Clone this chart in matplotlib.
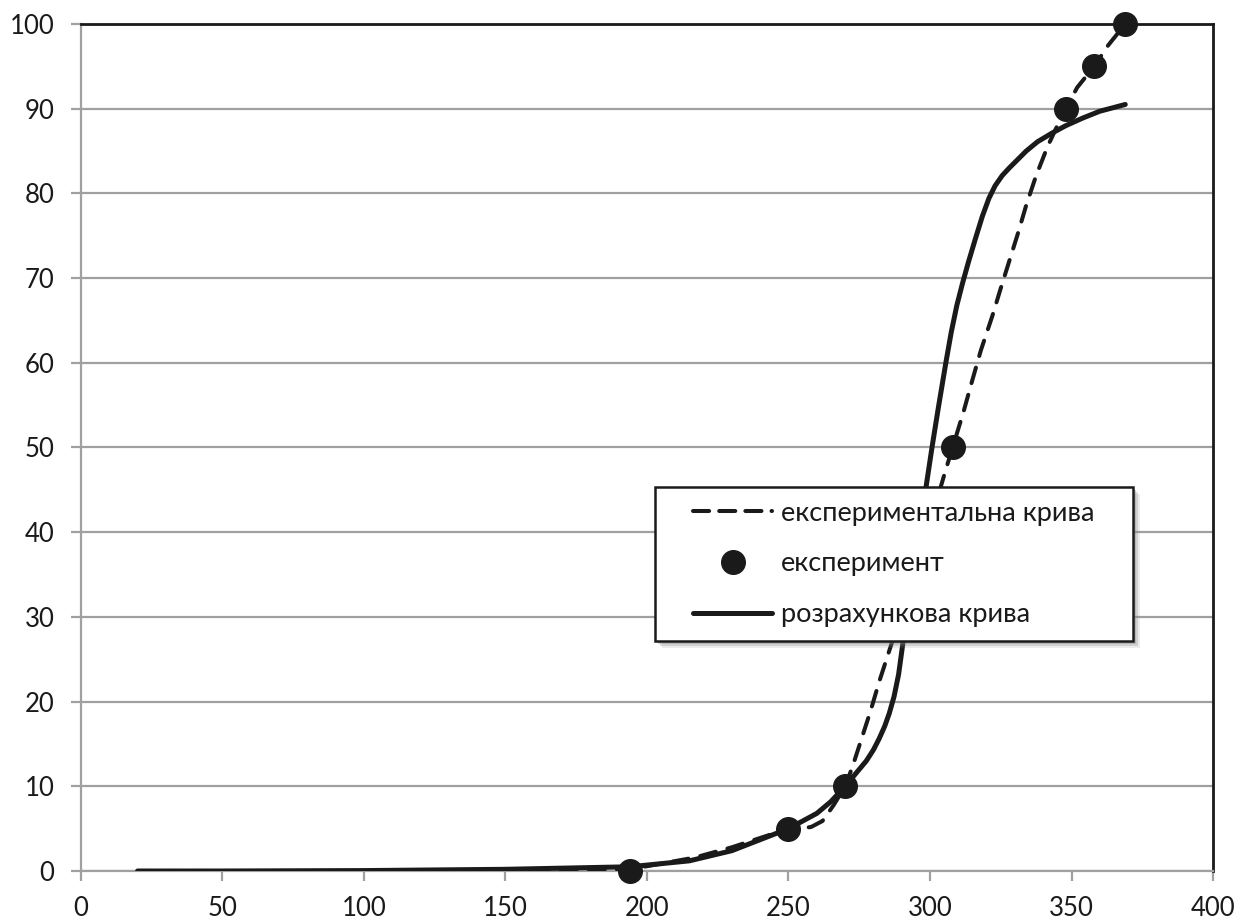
import matplotlib
matplotlib.use("Agg")
import matplotlib.pyplot as plt
from matplotlib.patches import Rectangle
from matplotlib.lines import Line2D

plt.rcParams['font.family'] = ['Lato', 'DejaVu Sans']

# experimental points
exp_x = [194, 250, 270, 308, 348, 358, 369]
exp_y = [0, 5, 10, 50, 90, 95, 100]

dash_x = [20, 60, 100, 150, 194, 217, 230, 250, 254, 258, 262, 266, 270, 272.6, 275.6,
          279, 282, 285.6, 290, 295, 300, 305.5, 308, 312, 315, 318, 322, 325, 328,
          331, 334, 337.4, 341.5, 345, 348, 352, 358, 363, 369]
dash_y = [0, 0, 0, 0.1, 0.2, 1.6, 2.8, 5.0, 5.0, 5.2, 5.9, 7.8, 10, 12.3, 15.4,
          18.9, 22.3, 26, 30.5, 35.5, 41, 47.3, 50, 54.4, 58, 61.5, 65.5, 68.8, 72,
          75.2, 78.6, 82, 85.5, 88, 90, 92.5, 95, 97.5, 100]

# calculated (solid) curve
calc_x = [20, 50, 100, 150, 194, 215, 230, 250, 260, 265, 270, 274, 277.5, 280, 282,
          284, 285.6, 287.3, 288.9, 290.3, 292, 294, 296, 298, 300.7, 303, 305.6, 307.5,
          309.5, 311.5, 313.5, 316, 318.5, 320.8, 323, 325.5, 328, 331, 334, 338, 343,
          348, 354, 360, 369]
calc_y = [0, 0, 0.05, 0.2, 0.5, 1.2, 2.4, 5.0, 6.8, 8.2, 10, 11.6, 13.0, 14.3, 15.6,
          17.1, 18.6, 20.6, 23.2, 26.6, 30.6, 35, 39.6, 44, 50, 54.8, 60, 63.6,
          66.8, 69.4, 71.8, 74.6, 77.3, 79.4, 80.9, 82.1, 83.0, 84.0, 85.0, 86.1, 87.1,
          88.0, 88.9, 89.7, 90.5]

labels = ['експериментальна крива', 'експеримент', 'розрахункова крива']
x_ticks = list(range(0, 401, 50))
y_ticks = list(range(0, 101, 10))

ink = '#1a1a1a'
grid_c = '#a0a0a0'

fig = plt.figure(figsize=(12.37, 9.23), dpi=100)
ax = fig.add_axes([81 / 1237, 52 / 923, 1132 / 1237, 847 / 923])

ax.set_xlim(0, 400)
ax.set_ylim(0, 100)
ax.set_xticks(x_ticks)
ax.set_yticks(y_ticks)
ax.yaxis.grid(True, color=grid_c, linewidth=1.6)
ax.set_axisbelow(True)

for side in ['left', 'bottom']:
    ax.spines[side].set_color(grid_c)
    ax.spines[side].set_linewidth(1.6)
for side in ['top', 'right']:
    ax.spines[side].set_color(ink)
    ax.spines[side].set_linewidth(2)

ax.tick_params(axis='both', direction='out', length=7, width=1.6, color=grid_c,
               labelsize=18.5, labelcolor=ink)
ax.tick_params(axis='y', pad=12)
ax.tick_params(axis='x', pad=11)

ax.plot(dash_x, dash_y, color=ink, linewidth=2.9, dashes=(4, 3),
        dash_capstyle='round', zorder=3)
ax.plot(exp_x, exp_y, 'o', color=ink, markersize=17, zorder=4, clip_on=False)
ax.plot(calc_x, calc_y, color=ink, linewidth=3.6, solid_capstyle='round',
        solid_joinstyle='round', zorder=5)

# legend box with a soft shadow
bx, by, bw, bh = 0.507, 0.272, 0.422, 0.181
px_x, px_y = 1 / 1132, 1 / 847
for off, a in [(7, 0.15), (5, 0.25), (3, 0.35)]:
    ax.add_patch(Rectangle((bx + off * px_x, by - off * px_y), bw, bh,
                           transform=ax.transAxes, facecolor='#808080', alpha=a,
                           edgecolor='none', zorder=6))
ax.add_patch(Rectangle((bx, by), bw, bh, transform=ax.transAxes, facecolor='white',
                       edgecolor=ink, linewidth=1.8, zorder=7))

handles = [
    Line2D([], [], color=ink, linewidth=2.9, dashes=(4, 2.5), dash_capstyle='round'),
    Line2D([], [], color=ink, marker='o', linestyle='none', markersize=17),
    Line2D([], [], color=ink, linewidth=3.6, solid_capstyle='round'),
]
leg = ax.legend(handles, labels, loc='center', bbox_to_anchor=(bx + bw / 2, by + bh / 2),
                frameon=False, fontsize=19.5, handlelength=2.9, handletextpad=0.33,
                labelspacing=0.95, borderpad=0)
leg.set_zorder(8)
for t in leg.get_texts():
    t.set_color(ink)

fig.savefig('out.png', dpi=100)
